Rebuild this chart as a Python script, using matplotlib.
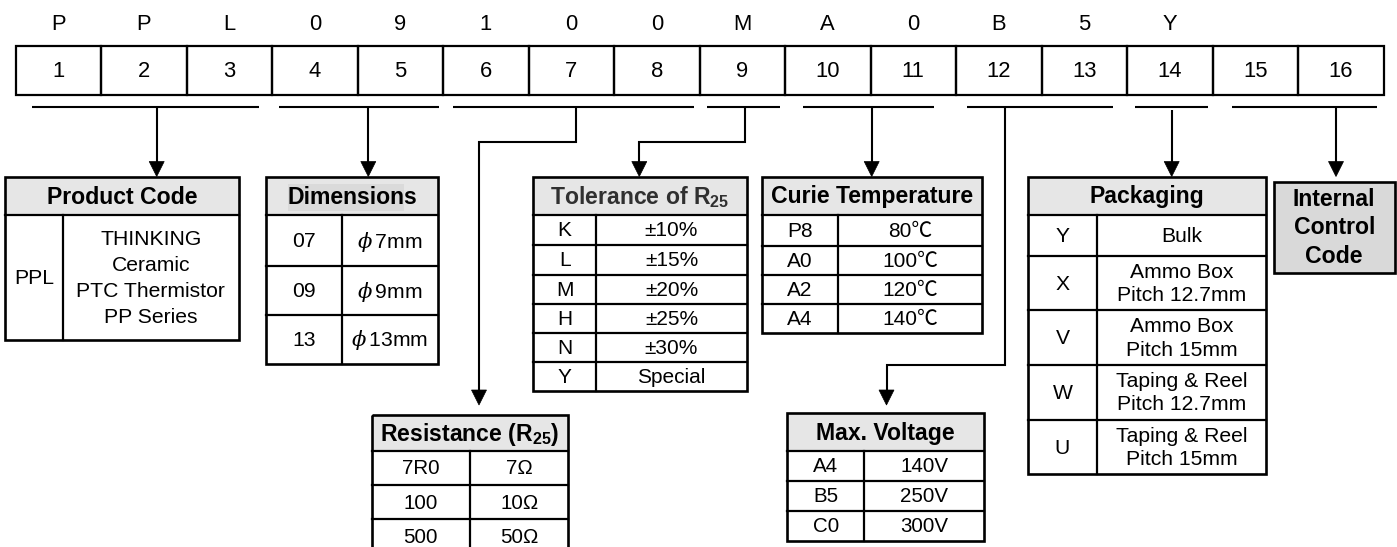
import matplotlib
matplotlib.use('Agg')
import matplotlib.pyplot as plt
from matplotlib.patches import Rectangle, Polygon

plt.rcParams['font.family'] = ['Liberation Sans', 'Noto Sans CJK SC', 'DejaVu Sans']
plt.rcParams['mathtext.fontset'] = 'custom'
plt.rcParams['mathtext.rm'] = 'Liberation Sans'
plt.rcParams['mathtext.it'] = 'DejaVu Serif:italic'
plt.rcParams['mathtext.bf'] = 'Liberation Sans:bold'

# ---------------- data ----------------
code_letters = ['P', 'P', 'L', '0', '9', '1', '0', '0', 'M', 'A', '0', 'B', '5', 'Y', '', '']
code_positions = [str(i) for i in range(1, 17)]

product_header = 'Product Code'
product_rows = [('PPL', 'THINKING\nCeramic\nPTC Thermistor\nPP Series')]

dim_header = 'Dimensions'
dim_rows = [('07', r'$\phi\,$7mm'), ('09', r'$\phi\,$9mm'), ('13', r'$\phi\,$13mm')]

res_header = r'Resistance (R$_{\mathbf{25}}$)'
res_rows = [('7R0', '7Ω'), ('100', '10Ω'), ('500', '50Ω')]

tol_header = r'Tolerance of R$_{\mathbf{25}}$'
tol_rows = [('K', '±10%'), ('L', '±15%'), ('M', '±20%'), ('H', '±25%'), ('N', '±30%'), ('Y', 'Special')]

curie_header = 'Curie Temperature'
curie_rows = [('P8', '80℃'), ('A0', '100℃'), ('A2', '120℃'), ('A4', '140℃')]

volt_header = 'Max. Voltage'
volt_rows = [('A4', '140V'), ('B5', '250V'), ('C0', '300V')]

pack_header = 'Packaging'
pack_rows = [('Y', 'Bulk'), ('X', 'Ammo Box\nPitch 12.7mm'), ('V', 'Ammo Box\nPitch 15mm'),
             ('W', 'Taping & Reel\nPitch 12.7mm'), ('U', 'Taping & Reel\nPitch 15mm')]

internal_text = 'Internal\nControl\nCode'

# ---------------- layout ----------------
W, H = 1397, 547
fig = plt.figure(figsize=(W / 100, H / 100), dpi=100)
ax = fig.add_axes([0, 0, 1, 1])
ax.set_xlim(0, W)
ax.set_ylim(H, 0)
ax.axis('off')

LW = 1.6
HEAD_FILL = '#e6e6e6'

box_left, cell_w = 15.5, 85.5
box_top, box_bot = 45.7, 95
letter_y = 25

for i, (lt, pos) in enumerate(zip(code_letters, code_positions)):
    cx = box_left + cell_w * (i + 0.5)
    ax.text(cx, letter_y, lt, ha='center', va='center', fontsize=15.8)
    ax.text(cx, (box_top + box_bot) / 2 + 1, pos, ha='center', va='center', fontsize=15.8)
    ax.add_patch(Rectangle((box_left + cell_w * i, box_top), cell_w, box_bot - box_top,
                           fill=False, lw=LW, ec='black'))


def arrow_head(x, ytip, w=7.5, l=15):
    ax.add_patch(Polygon([(x - w, ytip - l), (x + w, ytip - l), (x, ytip)],
                         closed=True, fc='black', ec='black', lw=0.5))


def path(pts, tip=True):
    xs = [p[0] for p in pts]
    ys = [p[1] for p in pts]
    ys2 = list(ys)
    if tip:
        ys2[-1] = ys[-1] - 14
    ax.plot(xs, ys2, color='black', lw=1.5, solid_capstyle='butt', solid_joinstyle='miter')
    if tip:
        arrow_head(xs[-1], ys[-1])


line_y = 106.7
groups = [(31.7, 259.3), (279, 439.3), (453.3, 694), (707.3, 780),
          (803.3, 934), (967.3, 1112.7), (1135, 1208.3), (1231.7, 1376.7)]
for a, b in groups:
    ax.plot([a, b], [line_y, line_y], color='black', lw=1.5, solid_capstyle='butt')

path([(156.7, line_y), (156.7, 176.5)])
path([(368.3, line_y), (368.3, 176.5)])
path([(576, line_y), (576, 141.7), (479, 141.7), (479, 405)])
path([(745, line_y), (745, 141.7), (639.3, 141.7), (639.3, 176.5)])
path([(871.7, line_y), (871.7, 176.5)])
path([(1005, line_y), (1005, 365), (886.5, 365), (886.5, 405)])
path([(1171.7, 110), (1171.7, 176.5)])
path([(1336, line_y), (1336, 176.5)])


def table(x0, x1, xc, ys, header, rows, fs_head=16.6, fs_body=15.2, head_color='black',
          ls=1.15, hl=None):
    top, hb = ys[0], ys[1]
    ax.add_patch(Rectangle((x0, top), x1 - x0, hb - top, fc=HEAD_FILL, ec='none', zorder=1))
    if hl is not None:
        ax.add_patch(Rectangle((hl[0], hl[1]), hl[2] - hl[0], hl[3] - hl[1], fc='#dadada',
                               ec='none', zorder=1.5))
    ax.text((x0 + x1) / 2, (top + hb) / 2 + 1, header, ha='center', va='center',
            fontsize=fs_head, fontweight='bold', color=head_color, zorder=3)
    bottom = ys[-1]
    ax.add_patch(Rectangle((x0, top), x1 - x0, bottom - top, fill=False, ec='black',
                           lw=LW + 0.3, zorder=4, clip_on=True))
    for y in ys[1:-1]:
        ax.plot([x0, x1], [y, y], color='black', lw=LW, zorder=4)
    ax.plot([xc, xc], [hb, bottom], color='black', lw=LW, zorder=4)
    for (a, b), r0, r1 in zip(rows, ys[1:-1], ys[2:]):
        cy = (r0 + r1) / 2 + 1
        ax.text((x0 + xc) / 2, cy, a, ha='center', va='center', fontsize=fs_body, zorder=3)
        ax.text((xc + x1) / 2, cy, b, ha='center', va='center', fontsize=fs_body,
                linespacing=ls, zorder=3)


table(5, 239, 62.7, [177, 215, 340], product_header, product_rows, ls=1.45)
table(265.7, 438.3, 341.7, [177, 215, 266, 315, 364], dim_header, dim_rows,
      hl=(288, 184, 404, 210.7))
table(533.3, 747, 596, [177, 215, 245, 275, 304, 333, 362, 391], tol_header, tol_rows,
      fs_body=15, head_color='#303030')
table(761.7, 982, 838, [177, 215, 246, 275, 304, 333], curie_header, curie_rows, fs_body=15)
table(1028, 1266, 1097, [177, 215, 256, 310, 364.5, 420, 474], pack_header, pack_rows, ls=1.3)
table(371.7, 568.3, 470, [415, 451, 485, 519.3, 553], res_header, res_rows, fs_body=14.8)
table(787.3, 984, 864.3, [413.3, 451, 481, 511, 540.7], volt_header, volt_rows, fs_body=14.8)

ax.add_patch(Rectangle((1274, 181.7), 1394.5 - 1274, 273 - 181.7, fc='#d9d9d9', ec='black',
                       lw=LW + 0.3))
ax.text((1274 + 1394.5) / 2, 228, internal_text, ha='center', va='center', fontsize=16.6,
        fontweight='bold', linespacing=1.3)

fig.savefig('out.png', dpi=100)
